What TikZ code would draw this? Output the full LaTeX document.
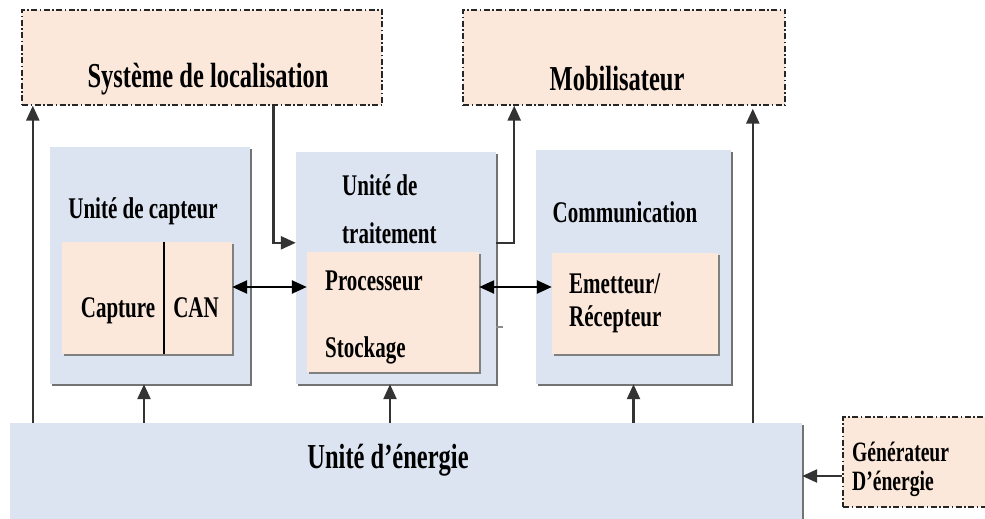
\documentclass[tikz,border=0pt]{standalone}
\usepackage{fontspec}
\setmainfont{Liberation Serif Bold}[FakeStretch=0.7]
\usepackage{tikz}
\usetikzlibrary{arrows.meta,shadows}

\definecolor{bleu}{RGB}{219,228,240}
\definecolor{peche}{RGB}{252,232,218}

\tikzset{
	bluebox/.style={fill=bleu, draw=none, drop shadow={shadow xshift=2pt, shadow yshift=-2pt, fill=black!55, opacity=1}},
	peachbox/.style={fill=peche, draw=none, drop shadow={shadow xshift=1.5pt, shadow yshift=-1.5pt, fill=black!50, opacity=1}},
	dotbox/.style={fill=peche, draw=black!85, line width=1.3pt, dash pattern=on 6pt off 2.5pt on 1.5pt off 2.5pt},
	arr/.style={line width=2.4pt, draw=black!80, -{Triangle[length=15pt,width=13pt]}},
	dblarr/.style={line width=2.4pt, draw=black, {Triangle[length=15pt,width=13pt]}-{Triangle[length=15pt,width=13pt]}},
	big/.style={font=\fontsize{35}{35}\selectfont, inner sep=0pt},
	med/.style={font=\fontsize{30}{30}\selectfont, inner sep=0pt},
	small/.style={font=\fontsize{28}{28}\selectfont, inner sep=0pt}
}

\begin{document}
\begin{tikzpicture}[x=1pt, y=-1pt]
	\useasboundingbox (0,0) rectangle (985,519);
	\clip (0,0) rectangle (985,519);

	% top boxes
	\node[dotbox, minimum width=360pt, minimum height=95pt] (loc) at (202,57.5) {};
	\node[dotbox, minimum width=322pt, minimum height=95pt] (mob) at (624,57.5) {};
	\node[big, anchor=base] (tloc) at (208,87) {Système de localisation};
	\node[big, anchor=base] (tmob) at (617,90) {Mobilisateur};

	% units
	\node[bluebox, minimum width=200pt, minimum height=237pt] (capt) at (150,265.5) {};
	\node[bluebox, minimum width=200pt, minimum height=232pt] (trait) at (396,268) {};
	\node[bluebox, minimum width=195pt, minimum height=234pt] (comm) at (633.5,267) {};
	\node[bluebox, minimum width=792pt, minimum height=110pt] (energie) at (406,478) {};

	\node[peachbox, minimum width=170pt, minimum height=112pt] (captin) at (147,298) {};
	\node[peachbox, minimum width=172pt, minimum height=120pt] (proc) at (393,312) {};
	\node[peachbox, minimum width=166pt, minimum height=101pt] (emet) at (635,303.5) {};
	\draw [line width=1.4pt] (captin.north west) ++(102,0) -- ++(0,112);

	\node[dotbox, minimum width=200pt, minimum height=90pt] (gen) at (943,462) {};

	% texts
	\node[med, anchor=base] (tcapt) at (143,218) {Unité de capteur};
	\node[med, anchor=base west] (ttrait1) at (342,195) {Unité de};
	\node[med, anchor=base west] (ttrait2) at (342,243) {traitement};
	\node[med, anchor=base] (tcomm) at (625,222) {Communication};
	\node[med, anchor=base] (tcapture) at (118,317) {Capture};
	\node[med, anchor=base] (tcan) at (196,317) {CAN};
	\node[med, anchor=base west] (tproc) at (325,290) {Processeur};
	\node[med, anchor=base west] (tstock) at (325,357) {Stockage};
	\node[med, anchor=base west] (temet) at (569,293) {Emetteur/};
	\node[med, anchor=base west] (trecep) at (569,326) {Récepteur};
	\node[big, anchor=base] (tener) at (388,468) {Unité d’énergie};
	\node[small, anchor=base west] (tgen1) at (852,461) {Générateur};
	\node[small, anchor=base west] (tgen2) at (852,490) {D’énergie};

	% connections
	\draw [arr] (energie.north west) ++(23,0) coordinate (a1) -- (a1 |- loc.south);
	\draw [arr] (loc.south west) ++(252,0) |- ([yshift=-91pt]trait.north west);
	\draw [arr] ([yshift=-91pt]trait.north east) -- ++(18,0) coordinate (m1) -- (m1 |- mob.south);
	\draw [arr] (energie.north west) ++(743,0) coordinate (a2) -- ([yshift=-3pt]a2 |- mob.south);

	\draw [dblarr] ([yshift=11pt]captin.east) -- ([yshift=11pt]captin.east -| proc.west);
	\draw [dblarr] ([yshift=11pt]captin.east -| proc.east) -- ([yshift=11pt]captin.east -| emet.west);

	\foreach \b/\s in {capt/-6, trait/-6, comm/0}
		\draw [arr] ([xshift=\s pt]\b.south |- energie.north) -- ([xshift=\s pt]\b.south);

	\draw [arr] ([yshift=-14pt]gen.west) -- ([yshift=-14pt]gen.west -| energie.east);
	\draw [black!45, line width=2.5pt] ([yshift=-59pt]trait.east) -- ++(7,0);
\end{tikzpicture}
\end{document}
